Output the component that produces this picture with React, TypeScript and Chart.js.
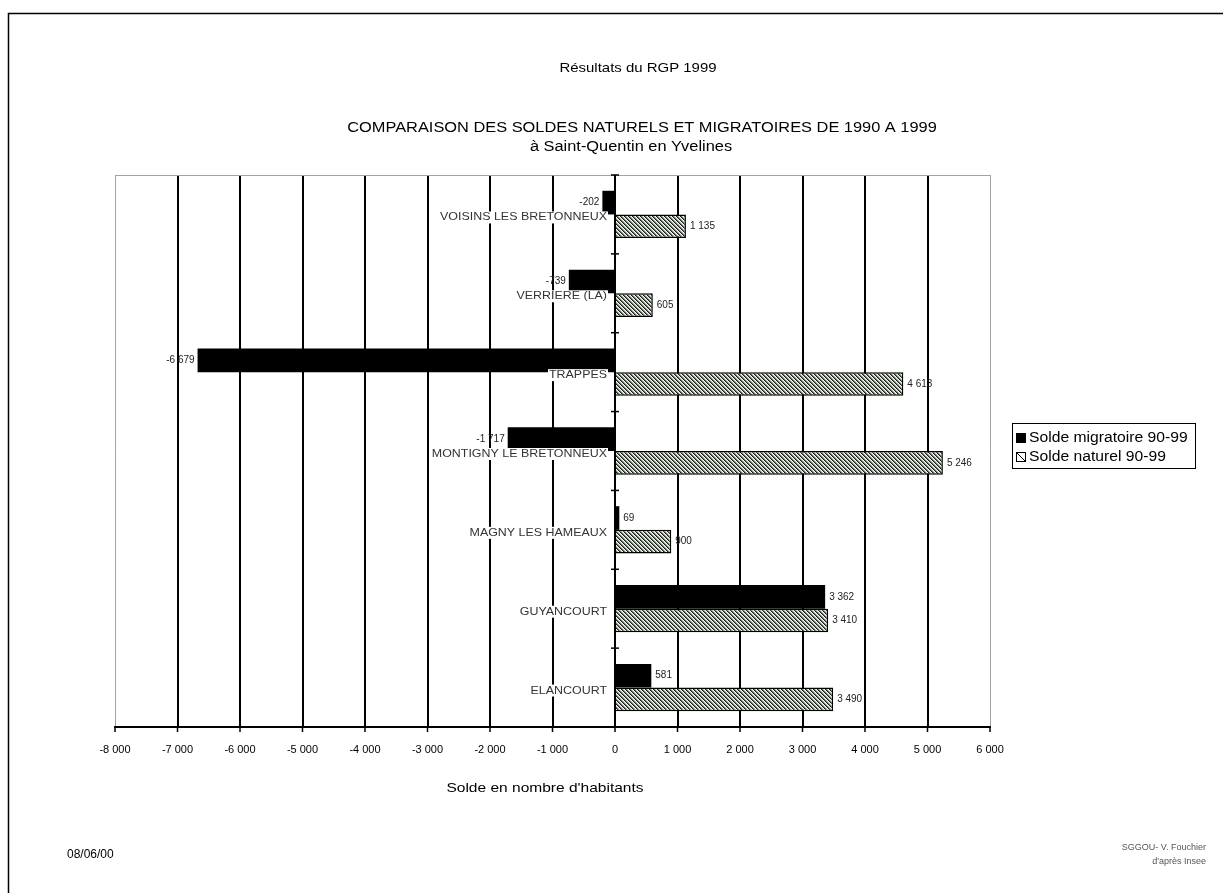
import React, { useEffect, useRef } from "react";
import { Chart, registerables } from "chart.js";
Chart.register(...registerables);

const categories = [
  "VOISINS LES BRETONNEUX",
  "VERRIERE (LA)",
  "TRAPPES",
  "MONTIGNY LE BRETONNEUX",
  "MAGNY LES HAMEAUX",
  "GUYANCOURT",
  "ELANCOURT",
];
const soldeMigratoire = [-202, -739, -6679, -1717, 69, 3362, 581];
const soldeNaturel = [1135, 605, 4613, 5246, 900, 3410, 3490];
const seriesLabels = ["Solde migratoire 90-99", "Solde naturel 90-99"];
const xMin = -8000;
const xMax = 6000;
const xStep = 1000;
const headerText = "Résultats du RGP 1999";
const titleText = "COMPARAISON DES SOLDES NATURELS ET MIGRATOIRES DE 1990 A 1999";
const subtitleText = "à Saint-Quentin en Yvelines";
const axisTitle = "Solde en nombre d'habitants";
const dateText = "08/06/00";
const sourceLines = ["SGGOU- V. Fouchier", "d'après Insee"];

const FONT = '"Liberation Sans", Arial, sans-serif';

function fmt(v: number): string {
  const s = Math.abs(Math.round(v)).toString().replace(/\B(?=(\d{3})+(?!\d))/g, " ");
  return (v < 0 ? "-" : "") + s;
}

function txt(
  ctx: CanvasRenderingContext2D,
  s: string,
  x: number,
  y: number,
  size: number,
  align: "left" | "center" | "right",
  color = "#000",
  sx = 1,
  weight = "normal"
) {
  ctx.save();
  ctx.font = `${weight} ${size}px ${FONT}`;
  ctx.textBaseline = "middle";
  ctx.textAlign = "left";
  const w = ctx.measureText(s).width * sx;
  const left = align === "center" ? x - w / 2 : align === "right" ? x - w : x;
  ctx.translate(left, y);
  ctx.scale(sx, 1);
  ctx.fillStyle = color;
  ctx.fillText(s, 0, 0);
  ctx.restore();
  return { left, w };
}

function makePattern(ctx: CanvasRenderingContext2D) {
  const c = document.createElement("canvas");
  c.width = 4;
  c.height = 4;
  const g = c.getContext("2d")!;
  g.fillStyle = "#ffffff";
  g.fillRect(0, 0, 4, 4);
  for (let i = 0; i < 4; i++) {
    g.fillStyle = "#1c1c1c";
    g.fillRect(i, i, 1, 1);
    g.fillStyle = "#6e6e6e";
    g.fillRect((i + 1) % 4, i, 1, 1);
    g.fillStyle = "#b9d4b0";
    g.fillRect((i + 2) % 4, i, 1, 1);
  }
  return ctx.createPattern(c, "repeat")!;
}

export default function App() {
  const ref = useRef<HTMLCanvasElement>(null);
  useEffect(() => {
    const canvas = ref.current!;
    const ctx0 = canvas.getContext("2d")!;
    const pattern = makePattern(ctx0);

    const decor = {
      id: "decor",
      beforeDraw(chart: any) {
        const ctx = chart.ctx as CanvasRenderingContext2D;
        ctx.save();
        ctx.fillStyle = "#fff";
        ctx.fillRect(0, 0, chart.width, chart.height);
        ctx.strokeStyle = "#000";
        ctx.lineWidth = 1.5;
        ctx.beginPath();
        ctx.moveTo(8.5, chart.height);
        ctx.lineTo(8.5, 13.5);
        ctx.lineTo(chart.width, 13.5);
        ctx.stroke();
        ctx.restore();
      },
      beforeDatasetsDraw(chart: any) {
        const ctx = chart.ctx as CanvasRenderingContext2D;
        const a = chart.chartArea;
        ctx.save();
        ctx.strokeStyle = "#9aa79a";
        ctx.lineWidth = 1;
        ctx.beginPath();
        ctx.moveTo(a.left, a.top + 0.5);
        ctx.lineTo(a.right, a.top + 0.5);
        ctx.stroke();
        ctx.restore();
      },
      afterDatasetsDraw(chart: any) {
        const ctx = chart.ctx as CanvasRenderingContext2D;
        const a = chart.chartArea;
        const xs = chart.scales.x;
        const ys = chart.scales.y;
        const x0 = xs.getPixelForValue(0);
        ctx.save();
        // y axis at zero
        ctx.strokeStyle = "#000";
        ctx.lineWidth = 2;
        ctx.beginPath();
        ctx.moveTo(x0, a.top);
        ctx.lineTo(x0, a.bottom);
        ctx.stroke();
        ctx.lineWidth = 1.5;
        for (let i = 0; i <= categories.length; i++) {
          const yy =
            i === 0
              ? a.top
              : i === categories.length
              ? a.bottom
              : (ys.getPixelForValue(i - 1) + ys.getPixelForValue(i)) / 2;
          ctx.beginPath();
          ctx.moveTo(x0 - 4, yy);
          ctx.lineTo(x0 + 4, yy);
          ctx.stroke();
        }
        // x axis ticks
        ctx.lineWidth = 1.5;
        for (let v = xMin; v <= xMax; v += xStep) {
          const px = xs.getPixelForValue(v);
          ctx.beginPath();
          ctx.moveTo(px, a.bottom);
          ctx.lineTo(px, a.bottom + 5);
          ctx.stroke();
          txt(ctx, fmt(v), px, a.bottom + 23, 11, "center", "#000");
        }
        ctx.restore();

        // data labels
        chart.data.datasets.forEach((ds: any, di: number) => {
          const meta = chart.getDatasetMeta(di);
          meta.data.forEach((bar: any, i: number) => {
            const v = ds.data[i];
            if (v < 0) txt(ctx, fmt(v), bar.x - 3, bar.y, 10, "right", "#222");
            else txt(ctx, fmt(v), bar.x + 4, bar.y, 10, "left", "#222");
          });
        });

        // category labels with white background
        const csx = 1.13;
        categories.forEach((c, i) => {
          const yy = ys.getPixelForValue(i) + 3;
          ctx.save();
          ctx.font = `11px ${FONT}`;
          const w = ctx.measureText(c).width * csx;
          ctx.fillStyle = "#fff";
          ctx.fillRect(x0 - 8 - w - 1, yy - 6, w + 2, 12);
          ctx.restore();
          txt(ctx, c, x0 - 8, yy, 11, "right", "#333", csx);
        });

        // axis title
        txt(ctx, axisTitle, 545, 788, 13.5, "center", "#000", 1.15);

        // titles
        txt(ctx, headerText, 638, 68, 13, "center", "#000", 1.15);
        txt(ctx, titleText, 642, 128, 14, "center", "#000", 1.17);
        txt(ctx, subtitleText, 631, 147, 14, "center", "#000", 1.17);

        // legend
        const lx = 1012, ly = 423, lw = 183, lh = 45;
        ctx.save();
        ctx.fillStyle = "#fff";
        ctx.fillRect(lx, ly, lw, lh);
        ctx.strokeStyle = "#000";
        ctx.lineWidth = 1;
        ctx.strokeRect(lx + 0.5, ly + 0.5, lw, lh);
        ctx.fillStyle = chart.data.datasets[0].backgroundColor;
        ctx.fillRect(lx + 4, ly + 10, 10, 10);
        ctx.strokeStyle = "#000";
        ctx.strokeRect(lx + 4.5, ly + 29.5, 9, 9);
        ctx.beginPath();
        ctx.moveTo(lx + 5, ly + 30);
        ctx.lineTo(lx + 13.5, ly + 38.5);
        ctx.stroke();
        ctx.restore();
        txt(ctx, chart.data.datasets[0].label, lx + 17, ly + 15, 14, "left", "#000", 1.12);
        txt(ctx, chart.data.datasets[1].label, lx + 17, ly + 34, 14, "left", "#000", 1.12);

        // footer
        txt(ctx, dateText, 67, 855, 12, "left", "#000");
        txt(ctx, sourceLines[0], 1206, 848, 9, "right", "#555");
        txt(ctx, sourceLines[1], 1206, 862, 9, "right", "#555");
      },
    };

    const chart = new Chart(canvas, {
      type: "bar",
      data: {
        labels: categories,
        datasets: [
          {
            label: seriesLabels[0],
            data: soldeMigratoire,
            backgroundColor: "#000",
            borderWidth: 0,
            categoryPercentage: 0.6,
            barPercentage: 1,
          },
          {
            label: seriesLabels[1],
            data: soldeNaturel,
            backgroundColor: pattern as any,
            borderColor: "#000",
            borderWidth: 1.5,
            categoryPercentage: 0.6,
            barPercentage: 1,
          },
        ],
      },
      options: {
        indexAxis: "y",
        responsive: false,
        animation: false,
        events: [],
        layout: { padding: { left: 115, right: 233, top: 175, bottom: 166 } },
        plugins: {
          legend: { display: false },
          title: { display: false },
          tooltip: { enabled: false },
        },
        scales: {
          x: {
            type: "linear",
            min: xMin,
            max: xMax,
            ticks: { display: false, stepSize: xStep },
            grid: {
              drawTicks: false,
              color: (c: any) =>
                c.tick && (c.tick.value === xMin || c.tick.value === xMax) ? "#9aa79a" : "#000",
              lineWidth: (c: any) =>
                c.tick && (c.tick.value === xMin || c.tick.value === xMax) ? 1 : 2,
            },
            border: { display: true, color: "#000", width: 2 },
            afterFit: (s: any) => {
              s.height = 0;
            },
          },
          y: {
            type: "category",
            ticks: { display: false },
            grid: { display: false, drawTicks: false },
            border: { display: false },
            afterFit: (s: any) => {
              s.width = 0;
            },
          },
        },
      },
      plugins: [decor],
    } as any);
    return () => chart.destroy();
  }, []);

  return (
    <canvas
      ref={ref}
      width={1223}
      height={893}
      style={{ position: "absolute", left: 0, top: 0, display: "block" }}
    />
  );
}
